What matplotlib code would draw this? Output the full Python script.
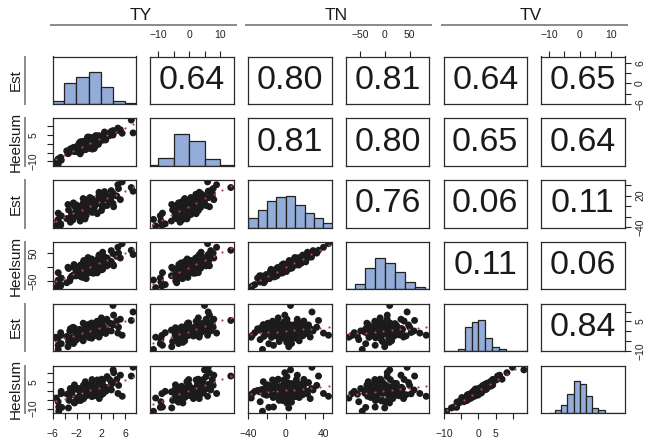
import numpy as np
import matplotlib
matplotlib.use('Agg')
import matplotlib.pyplot as plt
from matplotlib.lines import Line2D

plt.rcParams['font.family'] = ['Liberation Sans', 'DejaVu Sans']

ty_est = [-4.6, -3.0, -5.1, -0.6, -3.1, -1.5, -4.5, -0.5, -2.8, 1.4, -1.2, -1.7, -0.5, -1.4, 0.5,
          -3.3, 0.8, -2.1, 0.5, -1.4, 0.2, 0.7, -1.3, 1.0, -1.4, 3.0, -2.0, 2.1, 0.2, 1.1,
          -0.1, 0.7, 2.0, 0.1, 2.0, 0.9, 0.5, 3.4, -0.2, 2.4, -0.9, 3.1, 2.4, 1.7, 1.7,
          2.8, 4.0, 1.7, 3.7, 4.9, 4.8, -4.6, 4.1, -3.4, 2.1, 5.2, -2.5, -0.9, 4.6, -5.0,
          7.0, -5.4, 7.3, -5.0, 5.5, 4.0,
          -1.4, -3.6, -2.4, -0.4, -1.5, -1.7, 0.6, -2.1, 0.3, -2.0, 0.9, 0.1, -0.5, -1.3, 0.5,
          0.3, -1.0, -0.6, 0.6, 2.1, -0.8, 1.3, -0.9, 1.7, 1.2, 1.6, -0.1, 0.5, 2.2, 0.6,
          2.7, 0.2, 3.0, 2.1, 2.3, 2.6, -2.6, 2.3, -2.4, 3.7]
ty_heelsum = [-8.8, -2.9, -9.1, -0.7, -4.3, -2.1, -9.3, -2.4, -3.5, 2.3, -4.3, -0.5, -3.3, 0.8, -0.1,
              -5.3, 1.7, -3.3, 0.3, -3.2, 3.7, -1.1, -0.3, -0.8, -0.4, 5.5, -3.8, 2.3, 2.0, -1.3,
              3.9, 0.2, 3.7, -2.6, 2.0, 3.9, -0.6, 4.6, 3.6, 2.1, -1.4, 5.6, 3.7, 3.2, 4.6,
              2.2, 7.5, 3.3, 7.0, 7.8, 8.9, -7.7, 6.6, -5.6, 3.0, 8.0, -3.4, -0.4, 7.5, -8.6,
              13.5, -10.8, 6.2, -11.5, 6.0, 5.0,
              -5.7, -4.0, -4.4, -2.1, 0.6, -4.5, -0.1, -4.4, 0.5, -2.5, -2.7, 3.0, -2.3, 1.2, -1.6,
              2.7, -3.3, 0.9, -3.0, 3.7, 0.7, -0.1, 1.4, 0.9, 4.7, -0.3, 2.6, -1.8, 4.5, 1.7,
              5.5, 0.6, 4.7, 3.6, 3.9, 6.7, -2.3, 2.9, -2.0, 6.3]
tn_est = [-36.0, -30.2, -27.5, -24.1, -22.3, -20.6, -18.2, -16.4, -15.3, -14.2, -12.4, -11.1, -10.3, -9.2, -8.4,
          -7.1, -6.3, -5.2, -4.1, -3.4, -2.8, -2.1, -1.2, 0.3, -0.4, 1.2, 2.1, 2.4, 3.2, 4.1,
          4.8, 5.3, 6.2, 7.1, 8.2, 9.1, 10.2, 11.3, 12.1, 13.2, 14.3, 15.1, 17.2, 18.1, 20.3,
          22.2, 24.3, 26.1, 29.2, 33.1, 40.3, -33.2, -1.1, 3.1, -8.2, 12.3, 6.1, -19.2, 19.3, -13.2,
          35.0, -37.1, 28.0, -25.0, 45.7, 5.0,
          -28.0, -23.5, -21.0, -17.5, -15.8, -13.6, -11.8, -9.7, -8.8, -7.6, -6.7, -5.6, -4.7, -3.8, -2.5,
          -1.6, -0.8, 0.6, 1.5, 2.8, 3.6, 4.4, 5.7, 6.6, 7.5, 8.6, 9.6, 10.7, 11.6, 13.7,
          14.8, 16.2, 18.7, 21.3, 23.2, 27.4, -26.0, -2.0, 1.0, 16.0]
tn_heelsum = [-66, -38, -52, -33, -48, -29, -38, -13, -31.5, -19.7, -34, -8.8, -19.5, -2.7, -19.4,
              -4.4, -21.1, -6.3, 8.4, -18.4, 0.5, -7.4, 8.1, -7.5, 5.4, 4.9, -6.6, 14.8, 3.1, 20.6,
              2.7, 16.5, -2.1, 15.4, 22.1, 11.6, 29.3, 11.1, 21.4, 32.1, 13.9, 30.2, 17.5, 43, 33.5,
              29.5, 47.9, 37.8, 58.7, 50, 70.5, -61, 5.2, 0.0, -9.1, 32.7, 0.8, -35.7, 38.9, -19.1,
              60, -71.8, 45, -45, 83.3, 10,
              -29.8, -54.6, -25.6, -40, -7.3, -27.8, -16.9, -30.5, -1.1, -15.2, -1.7, -19, -3.5, -20.1, 12,
              -9.6, 9.7, -15, 7.4, -3.5, 23.8, -4, 16.1, -2.4, 24, 11.8, 34.4, 8.1, 23.6, 7.9,
              33.7, 13.9, 32.9, 19.1, 53.1, 35.8, -30.6, -7.2, 9.6, 20.6]
tv_est = [-2.1, 1.3, -4.2, 3.4, 0.2, -1.4, -6.3, 2.2, -3.1, 5.1, -1.2, 0.8, -2.4, 0.1, 4.2,
          -5.2, 2.1, -0.9, 1.2, -3.3, 2.9, -0.2, -2.2, 1.1, -1.3, 6.1, -4.3, 2.3, 0.3, -2.1,
          1.2, -0.8, 3.1, -3.2, -0.1, 1.9, -1.8, 4.1, -0.7, 1.1, -4.8, 0.4, 2.2, -2.3, 0.9,
          -1.1, 3.2, -2.9, 0.2, 2.1, -0.9, -0.7, 8.2, -7.8, 6.8, 6.1, -6.2, 4.1, 5.2, -7.1,
          5.5, -3.0, 9.8, -9.2, -2.0, 13.1,
          0.6, -2.6, 1.8, -0.4, 0.9, -1.9, 2.6, -0.7, 1.5, -2.8, 0.4, 3.6, -1.6, 0.7, -0.5,
          1.8, -3.6, 0.2, -1.7, 3.7, -0.3, 1.6, -2.4, 0.6, 2.6, -1.2, 0.3, -3.5, 2.9, -0.2,
          1.4, -1.5, 0.5, 2.4, -0.6, 1.0, 2.0, 4.8, -5.6, 3.9]
tv_heelsum = [-1.5, 0.3, -6.1, 5.3, 1.4, -2.4, -9.3, 2.7, -2.1, 6.3, -3.0, 1.4, -2.8, -1.2, 6.5,
              -5.3, 1.5, 1.1, 2.3, -5.4, 3.3, -1.2, -1.5, 0.7, 0.0, 8.2, -5.6, 1.1, 0.9, -2.6,
              3.1, -2.5, 4.2, -2.3, -2.3, 2.3, -2.7, 6.5, -0.3, 0.0, -3.7, 1.3, 1.8, -2.1, -0.9,
              -0.1, 4.8, -4.3, 0.6, 3.2, -1.4, -0.2, 10.4, -9.6, 6.7, 9.0, -6.3, 3.4, 6.6, -9.1,
              8.5, -4.0, 13.5, -11.5, -3.0, 12.0,
              -0.5, -1.8, 3.5, -1.2, 1.3, -3.7, 3.7, 1.1, 1.3, -4.1, 1.7, 2.8, -1.2, -1.2, 0.3,
              3.7, -4.5, -0.4, -0.5, 4.5, -1.7, 2.8, -4.3, 0.9, 2.0, 0.3, -0.8, -3.2, 4.3, -1.7,
              2.1, -2.0, 1.8, 4.4, -1.6, 1.4, 0.8, 6.3, -6.8, 3.8]

variables = [ty_est, ty_heelsum, tn_est, tn_heelsum, tv_est, tv_heelsum]
groups = ['TY', 'TN', 'TV']
row_names = ['Est', 'Heelsum', 'Est', 'Heelsum', 'Est', 'Heelsum']

# upper panels: correlations, row by row
corr_labels = [['0.64', '0.80', '0.81', '0.64', '0.65'],
               ['0.81', '0.80', '0.65', '0.64'],
               ['0.76', '0.06', '0.11'],
               ['0.11', '0.06'],
               ['0.84']]

# diagonal histograms: first break, bin width, relative bar heights
hist_start = [-6, -15, -40, -80, -10, -10]
hist_width = [2, 5, 10, 20, 2, 2]
hist_heights = [[11, 65, 86, 100, 54, 9, 2],
                [1.5, 23, 93, 72, 20, 1.5],
                [30, 53, 80, 93, 96, 70, 43, 28, 13],
                [2, 16, 63, 95, 78, 53, 23, 6, 1.5],
                [1, 1, 8, 73, 86, 94, 38, 11, 6, 1, 1, 1],
                [1, 8, 23, 55, 93, 86, 50, 15, 10, 0, 1, 1]]

# outer axes ticks
x_ticks = [[-6, -4, -2, 0, 2, 4, 6], [-10, -5, 0, 5, 10], [-40, -20, 0, 20, 40],
           [-50, 0, 50], [-10, -5, 0, 5, 10], [-10, -5, 0, 5, 10]]
x_ticklabels = [['-6', '', '-2', '', '2', '', '6'], ['-10', '', '0', '', '10'],
                ['-40', '', '0', '', '40'], ['-50', '0', '50'],
                ['-10', '', '0', '5', ''], ['-10', '', '0', '', '10']]
y_ticks = [[-6, -3, 0, 3, 6], [-10, -5, 0, 5, 10], [-40, -20, 0, 20, 40],
           [-50, 0, 50], [-10, -5, 0, 5, 10], [-10, -5, 0, 5, 10]]
y_ticklabels = [['-6', '', '0', '', '6'], ['-10', '', '', '5', ''],
                ['-40', '', '', '20', ''], ['-50', '', '50'],
                ['-10', '', '', '5', ''], ['-10', '', '', '5', '']]

W, H = 651, 446
fig = plt.figure(figsize=(W / 100, H / 100), dpi=100)


def box(left, top, w, h):
    return [left / W, 1 - (top + h) / H, w / W, h / H]


def fmt(s):
    return s.replace('-', '\u2212')


lims = []
for v in variables:
    lo, hi = min(v), max(v)
    pad = 0.04 * (hi - lo)
    lims.append((lo - pad, hi + pad))

n = len(variables)
for i in range(n):
    for j in range(n):
        ax = fig.add_axes(box(52.7 + 97.7 * j, 56.5 + 61.8 * i, 83.5, 47.5))
        ax.set_xticks([])
        ax.set_yticks([])
        if i > j:
            x = np.array(variables[j])
            y = np.array(variables[i])
            ax.scatter(x, y, s=25, c='#1b1b1b', edgecolors='none', zorder=2)
            b, a = np.polyfit(x, y, 1)
            xs = np.linspace(x.min(), x.max(), 10)
            ax.plot(xs, a + b * xs, ls='none', marker='o', ms=1.6, color='#b8404e',
                    mec='none', zorder=3)
            ax.set_xlim(lims[j])
            ax.set_ylim(lims[i])
        elif i == j:
            h = hist_heights[i]
            edges = hist_start[i] + hist_width[i] * np.arange(len(h))
            ax.bar(edges, h, width=hist_width[i], align='edge', color='#93acd8',
                   edgecolor='#222222', linewidth=0.9)
            ax.set_xlim(lims[j])
            ax.set_ylim(0, max(h) * 1.5)
        else:
            ax.text(0.5, 0.5, corr_labels[i][j - i - 1], ha='center', va='center',
                    fontsize=24.5, color='#1a1a1a', transform=ax.transAxes)
            ax.set_xlim(lims[j])
            ax.set_ylim(lims[i])
        for sp in ax.spines.values():
            sp.set_color('#2a2a2a')
            sp.set_linewidth(0.9)

        tp = dict(length=4.5, width=0.8, color='#222222', labelcolor='#222222', labelsize=7.5)
        if i == n - 1 and j % 2 == 0:
            ax.set_xticks(x_ticks[j])
            ax.set_xticklabels([fmt(t) for t in x_ticklabels[j]])
            ax.tick_params(axis='x', bottom=True, pad=7, **tp)
        if i == 0 and j % 2 == 1:
            ax.xaxis.tick_top()
            ax.set_xticks(x_ticks[j])
            ax.set_xticklabels([fmt(t) for t in x_ticklabels[j]])
            ax.tick_params(axis='x', top=True, pad=7.5, **tp)
        if j == 0 and i % 2 == 1:
            ax.set_yticks(y_ticks[i])
            ax.set_yticklabels([fmt(t) for t in y_ticklabels[i]], rotation=90, va='center')
            ax.tick_params(axis='y', left=True, pad=5.5, **tp)
        if j == n - 1 and i % 2 == 0:
            ax.yaxis.tick_right()
            ax.set_yticks(y_ticks[i])
            ax.set_yticklabels([fmt(t) for t in y_ticklabels[i]], rotation=90, va='center')
            ax.tick_params(axis='y', right=True, pad=3, **tp)

# group headers with grey rules
for g, name in enumerate(groups):
    x0 = 52.7 + 97.7 * 2 * g - 2
    x1 = 52.7 + 97.7 * (2 * g + 1) + 83.5 + 2
    fig.add_artist(Line2D([x0 / W, x1 / W], [1 - 25 / H, 1 - 25 / H], color='#8a8a8a', lw=1.4))
    fig.text((x0 + x1) / 2 / W - 3 / W, 1 - 15 / H, name, ha='center', va='center',
             fontsize=12.5, color='#1a1a1a')

# row names with grey rules
for i, name in enumerate(row_names):
    top = 56.5 + 61.8 * i
    fig.add_artist(Line2D([25 / W, 25 / W], [1 - top / H, 1 - (top + 47.5) / H],
                          color='#8a8a8a', lw=1.4))
    fig.text(16 / W, 1 - (top + 23.75) / H, name, ha='center', va='center', rotation=90,
             fontsize=11, color='#1a1a1a')

fig.savefig('out.png', dpi=100)
